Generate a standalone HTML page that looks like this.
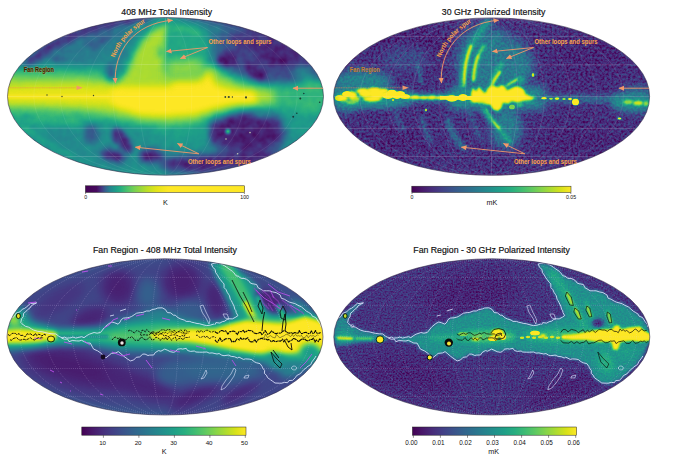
<!DOCTYPE html>
<html><head><meta charset="utf-8"><title>Sky maps</title>
<style>html,body{margin:0;padding:0;background:#fff}svg{display:block}text{font-family:"Liberation Sans",sans-serif}</style>
</head><body>
<svg width="680" height="454" viewBox="0 0 680 454">
<defs>
<filter id="vir" filterUnits="userSpaceOnUse" x="0" y="0" width="680" height="454" color-interpolation-filters="sRGB"><feComponentTransfer><feFuncR type="table" tableValues="0.267 0.274 0.279 0.282 0.283 0.282 0.279 0.273 0.267 0.257 0.249 0.239 0.228 0.218 0.207 0.198 0.187 0.179 0.170 0.162 0.155 0.146 0.139 0.131 0.125 0.121 0.119 0.123 0.132 0.147 0.171 0.197 0.233 0.267 0.312 0.352 0.404 0.449 0.497 0.555 0.606 0.668 0.720 0.783 0.835 0.896 0.946 0.993"/><feFuncG type="table" tableValues="0.005 0.031 0.062 0.095 0.121 0.151 0.175 0.205 0.228 0.256 0.279 0.301 0.327 0.347 0.372 0.392 0.415 0.434 0.456 0.475 0.493 0.515 0.534 0.556 0.574 0.596 0.615 0.637 0.655 0.673 0.694 0.712 0.732 0.749 0.768 0.783 0.800 0.814 0.826 0.840 0.851 0.862 0.870 0.879 0.886 0.894 0.900 0.906"/><feFuncB type="table" tableValues="0.329 0.359 0.387 0.417 0.441 0.465 0.483 0.502 0.514 0.527 0.535 0.541 0.547 0.550 0.553 0.555 0.557 0.557 0.558 0.558 0.558 0.557 0.555 0.552 0.549 0.544 0.538 0.529 0.520 0.509 0.494 0.479 0.459 0.441 0.416 0.393 0.363 0.335 0.306 0.269 0.237 0.196 0.163 0.125 0.103 0.096 0.113 0.144"/></feComponentTransfer></filter>
<clipPath id="e1"><ellipse cx="165.5" cy="96.4" rx="158" ry="78.8"/></clipPath>
<clipPath id="e2"><ellipse cx="491.6" cy="96.6" rx="158" ry="78.7"/></clipPath>
<clipPath id="e3"><ellipse cx="165" cy="336.9" rx="158" ry="78.1"/></clipPath>
<clipPath id="e4"><ellipse cx="491.8" cy="336.9" rx="158" ry="78.1"/></clipPath>
<filter id="virn1" filterUnits="userSpaceOnUse" x="0" y="0" width="680" height="454" color-interpolation-filters="sRGB"><feTurbulence type="fractalNoise" baseFrequency="0.12 0.12" numOctaves="2" seed="2" result="t"/><feColorMatrix in="t" type="matrix" values="1 0 0 0 0  1 0 0 0 0  1 0 0 0 0  0 0 0 0 1" result="n"/><feComposite in="SourceGraphic" in2="n" operator="arithmetic" k1="-0.2" k2="1.1" k3="0.2" k4="-0.1" result="s"/><feComponentTransfer in="s"><feFuncR type="table" tableValues="0.267 0.274 0.279 0.282 0.283 0.282 0.279 0.273 0.267 0.257 0.249 0.239 0.228 0.218 0.207 0.198 0.187 0.179 0.170 0.162 0.155 0.146 0.139 0.131 0.125 0.121 0.119 0.123 0.132 0.147 0.171 0.197 0.233 0.267 0.312 0.352 0.404 0.449 0.497 0.555 0.606 0.668 0.720 0.783 0.835 0.896 0.946 0.993"/><feFuncG type="table" tableValues="0.005 0.031 0.062 0.095 0.121 0.151 0.175 0.205 0.228 0.256 0.279 0.301 0.327 0.347 0.372 0.392 0.415 0.434 0.456 0.475 0.493 0.515 0.534 0.556 0.574 0.596 0.615 0.637 0.655 0.673 0.694 0.712 0.732 0.749 0.768 0.783 0.800 0.814 0.826 0.840 0.851 0.862 0.870 0.879 0.886 0.894 0.900 0.906"/><feFuncB type="table" tableValues="0.329 0.359 0.387 0.417 0.441 0.465 0.483 0.502 0.514 0.527 0.535 0.541 0.547 0.550 0.553 0.555 0.557 0.557 0.558 0.558 0.558 0.557 0.555 0.552 0.549 0.544 0.538 0.529 0.520 0.509 0.494 0.479 0.459 0.441 0.416 0.393 0.363 0.335 0.306 0.269 0.237 0.196 0.163 0.125 0.103 0.096 0.113 0.144"/></feComponentTransfer></filter>
<marker id="ah" viewBox="0 0 10 10" refX="9" refY="5" markerWidth="6.2" markerHeight="6.2" orient="auto-start-reverse"><path d="M0 0.5 L10 5 L0 9.5 z" fill="#f2986a"/></marker>
<path id="nps1" d="M 114.8 57.8 C 119 44 132 29.5 149.5 20"/>
<filter id="virn2" filterUnits="userSpaceOnUse" x="0" y="0" width="680" height="454" color-interpolation-filters="sRGB"><feTurbulence type="fractalNoise" baseFrequency="0.42 0.42" numOctaves="2" seed="5" result="t"/><feColorMatrix in="t" type="matrix" values="1 0 0 0 0  1 0 0 0 0  1 0 0 0 0  0 0 0 0 1" result="n"/><feComposite in="SourceGraphic" in2="n" operator="arithmetic" k1="-0.5" k2="1.25" k3="0.5" k4="-0.25" result="s"/><feComponentTransfer in="s"><feFuncR type="table" tableValues="0.267 0.274 0.279 0.282 0.283 0.282 0.279 0.273 0.267 0.257 0.249 0.239 0.228 0.218 0.207 0.198 0.187 0.179 0.170 0.162 0.155 0.146 0.139 0.131 0.125 0.121 0.119 0.123 0.132 0.147 0.171 0.197 0.233 0.267 0.312 0.352 0.404 0.449 0.497 0.555 0.606 0.668 0.720 0.783 0.835 0.896 0.946 0.993"/><feFuncG type="table" tableValues="0.005 0.031 0.062 0.095 0.121 0.151 0.175 0.205 0.228 0.256 0.279 0.301 0.327 0.347 0.372 0.392 0.415 0.434 0.456 0.475 0.493 0.515 0.534 0.556 0.574 0.596 0.615 0.637 0.655 0.673 0.694 0.712 0.732 0.749 0.768 0.783 0.800 0.814 0.826 0.840 0.851 0.862 0.870 0.879 0.886 0.894 0.900 0.906"/><feFuncB type="table" tableValues="0.329 0.359 0.387 0.417 0.441 0.465 0.483 0.502 0.514 0.527 0.535 0.541 0.547 0.550 0.553 0.555 0.557 0.557 0.558 0.558 0.558 0.557 0.555 0.552 0.549 0.544 0.538 0.529 0.520 0.509 0.494 0.479 0.459 0.441 0.416 0.393 0.363 0.335 0.306 0.269 0.237 0.196 0.163 0.125 0.103 0.096 0.113 0.144"/></feComponentTransfer></filter>
<filter id="virn4" filterUnits="userSpaceOnUse" x="0" y="0" width="680" height="454" color-interpolation-filters="sRGB"><feTurbulence type="fractalNoise" baseFrequency="0.6 0.6" numOctaves="2" seed="11" result="t"/><feColorMatrix in="t" type="matrix" values="1 0 0 0 0  1 0 0 0 0  1 0 0 0 0  0 0 0 0 1" result="n"/><feComposite in="SourceGraphic" in2="n" operator="arithmetic" k1="-0.42" k2="1.21" k3="0.42" k4="-0.21" result="s"/><feComponentTransfer in="s"><feFuncR type="table" tableValues="0.267 0.274 0.279 0.282 0.283 0.282 0.279 0.273 0.267 0.257 0.249 0.239 0.228 0.218 0.207 0.198 0.187 0.179 0.170 0.162 0.155 0.146 0.139 0.131 0.125 0.121 0.119 0.123 0.132 0.147 0.171 0.197 0.233 0.267 0.312 0.352 0.404 0.449 0.497 0.555 0.606 0.668 0.720 0.783 0.835 0.896 0.946 0.993"/><feFuncG type="table" tableValues="0.005 0.031 0.062 0.095 0.121 0.151 0.175 0.205 0.228 0.256 0.279 0.301 0.327 0.347 0.372 0.392 0.415 0.434 0.456 0.475 0.493 0.515 0.534 0.556 0.574 0.596 0.615 0.637 0.655 0.673 0.694 0.712 0.732 0.749 0.768 0.783 0.800 0.814 0.826 0.840 0.851 0.862 0.870 0.879 0.886 0.894 0.900 0.906"/><feFuncB type="table" tableValues="0.329 0.359 0.387 0.417 0.441 0.465 0.483 0.502 0.514 0.527 0.535 0.541 0.547 0.550 0.553 0.555 0.557 0.557 0.558 0.558 0.558 0.557 0.555 0.552 0.549 0.544 0.538 0.529 0.520 0.509 0.494 0.479 0.459 0.441 0.416 0.393 0.363 0.335 0.306 0.269 0.237 0.196 0.163 0.125 0.103 0.096 0.113 0.144"/></feComponentTransfer></filter>
<linearGradient id="cb1" x1="0" x2="1" y1="0" y2="0"><stop offset="0.000" stop-color="#440154"/><stop offset="0.070" stop-color="#460b5e"/><stop offset="0.100" stop-color="#463480"/><stop offset="0.125" stop-color="#355f8d"/><stop offset="0.155" stop-color="#25848e"/><stop offset="0.190" stop-color="#1e9c89"/><stop offset="0.220" stop-color="#26ad81"/><stop offset="0.270" stop-color="#52c569"/><stop offset="0.310" stop-color="#7ad151"/><stop offset="0.390" stop-color="#bddf26"/><stop offset="0.450" stop-color="#e5e419"/><stop offset="0.520" stop-color="#fde725"/><stop offset="1.000" stop-color="#fde725"/></linearGradient>
<linearGradient id="cb2" x1="0" x2="1" y1="0" y2="0"><stop offset="0.000" stop-color="#440154"/><stop offset="0.062" stop-color="#48186a"/><stop offset="0.125" stop-color="#472d7b"/><stop offset="0.188" stop-color="#424086"/><stop offset="0.250" stop-color="#3b528b"/><stop offset="0.312" stop-color="#33638d"/><stop offset="0.375" stop-color="#2c728e"/><stop offset="0.438" stop-color="#26828e"/><stop offset="0.500" stop-color="#21918c"/><stop offset="0.562" stop-color="#1fa088"/><stop offset="0.625" stop-color="#28ae80"/><stop offset="0.688" stop-color="#3fbc73"/><stop offset="0.750" stop-color="#5ec962"/><stop offset="0.812" stop-color="#84d44b"/><stop offset="0.875" stop-color="#addc30"/><stop offset="0.938" stop-color="#d8e219"/><stop offset="1.000" stop-color="#fde725"/></linearGradient>
<linearGradient id="cb3" x1="0" x2="1" y1="0" y2="0"><stop offset="0.000" stop-color="#440154"/><stop offset="0.062" stop-color="#48186a"/><stop offset="0.125" stop-color="#472d7b"/><stop offset="0.188" stop-color="#424086"/><stop offset="0.250" stop-color="#3b528b"/><stop offset="0.312" stop-color="#33638d"/><stop offset="0.375" stop-color="#2c728e"/><stop offset="0.438" stop-color="#26828e"/><stop offset="0.500" stop-color="#21918c"/><stop offset="0.562" stop-color="#1fa088"/><stop offset="0.625" stop-color="#28ae80"/><stop offset="0.688" stop-color="#3fbc73"/><stop offset="0.750" stop-color="#5ec962"/><stop offset="0.812" stop-color="#84d44b"/><stop offset="0.875" stop-color="#addc30"/><stop offset="0.938" stop-color="#d8e219"/><stop offset="1.000" stop-color="#fde725"/></linearGradient>
<linearGradient id="cb4" x1="0" x2="1" y1="0" y2="0"><stop offset="0.000" stop-color="#440154"/><stop offset="0.062" stop-color="#48186a"/><stop offset="0.125" stop-color="#472d7b"/><stop offset="0.188" stop-color="#424086"/><stop offset="0.250" stop-color="#3b528b"/><stop offset="0.312" stop-color="#33638d"/><stop offset="0.375" stop-color="#2c728e"/><stop offset="0.438" stop-color="#26828e"/><stop offset="0.500" stop-color="#21918c"/><stop offset="0.562" stop-color="#1fa088"/><stop offset="0.625" stop-color="#28ae80"/><stop offset="0.688" stop-color="#3fbc73"/><stop offset="0.750" stop-color="#5ec962"/><stop offset="0.812" stop-color="#84d44b"/><stop offset="0.875" stop-color="#addc30"/><stop offset="0.938" stop-color="#d8e219"/><stop offset="1.000" stop-color="#fde725"/></linearGradient>
<filter id="b0_5" filterUnits="userSpaceOnUse" x="0" y="0" width="680" height="454" color-interpolation-filters="sRGB"><feGaussianBlur stdDeviation="0.5"/></filter>
<filter id="b0_6" filterUnits="userSpaceOnUse" x="0" y="0" width="680" height="454" color-interpolation-filters="sRGB"><feGaussianBlur stdDeviation="0.6"/></filter>
<filter id="b0_7" filterUnits="userSpaceOnUse" x="0" y="0" width="680" height="454" color-interpolation-filters="sRGB"><feGaussianBlur stdDeviation="0.7"/></filter>
<filter id="b0_8" filterUnits="userSpaceOnUse" x="0" y="0" width="680" height="454" color-interpolation-filters="sRGB"><feGaussianBlur stdDeviation="0.8"/></filter>
<filter id="b0_9" filterUnits="userSpaceOnUse" x="0" y="0" width="680" height="454" color-interpolation-filters="sRGB"><feGaussianBlur stdDeviation="0.9"/></filter>
<filter id="b1_0" filterUnits="userSpaceOnUse" x="0" y="0" width="680" height="454" color-interpolation-filters="sRGB"><feGaussianBlur stdDeviation="1.0"/></filter>
<filter id="b1_1" filterUnits="userSpaceOnUse" x="0" y="0" width="680" height="454" color-interpolation-filters="sRGB"><feGaussianBlur stdDeviation="1.1"/></filter>
<filter id="b1_2" filterUnits="userSpaceOnUse" x="0" y="0" width="680" height="454" color-interpolation-filters="sRGB"><feGaussianBlur stdDeviation="1.2"/></filter>
<filter id="b1_3" filterUnits="userSpaceOnUse" x="0" y="0" width="680" height="454" color-interpolation-filters="sRGB"><feGaussianBlur stdDeviation="1.3"/></filter>
<filter id="b1_5" filterUnits="userSpaceOnUse" x="0" y="0" width="680" height="454" color-interpolation-filters="sRGB"><feGaussianBlur stdDeviation="1.5"/></filter>
<filter id="b1_6" filterUnits="userSpaceOnUse" x="0" y="0" width="680" height="454" color-interpolation-filters="sRGB"><feGaussianBlur stdDeviation="1.6"/></filter>
<filter id="b1_8" filterUnits="userSpaceOnUse" x="0" y="0" width="680" height="454" color-interpolation-filters="sRGB"><feGaussianBlur stdDeviation="1.8"/></filter>
<filter id="b2" filterUnits="userSpaceOnUse" x="0" y="0" width="680" height="454" color-interpolation-filters="sRGB"><feGaussianBlur stdDeviation="2"/></filter>
<filter id="b2_2" filterUnits="userSpaceOnUse" x="0" y="0" width="680" height="454" color-interpolation-filters="sRGB"><feGaussianBlur stdDeviation="2.2"/></filter>
<filter id="b2_5" filterUnits="userSpaceOnUse" x="0" y="0" width="680" height="454" color-interpolation-filters="sRGB"><feGaussianBlur stdDeviation="2.5"/></filter>
<filter id="b3" filterUnits="userSpaceOnUse" x="0" y="0" width="680" height="454" color-interpolation-filters="sRGB"><feGaussianBlur stdDeviation="3"/></filter>
<filter id="b3_2" filterUnits="userSpaceOnUse" x="0" y="0" width="680" height="454" color-interpolation-filters="sRGB"><feGaussianBlur stdDeviation="3.2"/></filter>
<filter id="b3_5" filterUnits="userSpaceOnUse" x="0" y="0" width="680" height="454" color-interpolation-filters="sRGB"><feGaussianBlur stdDeviation="3.5"/></filter>
<filter id="b4" filterUnits="userSpaceOnUse" x="0" y="0" width="680" height="454" color-interpolation-filters="sRGB"><feGaussianBlur stdDeviation="4"/></filter>
<filter id="b4_5" filterUnits="userSpaceOnUse" x="0" y="0" width="680" height="454" color-interpolation-filters="sRGB"><feGaussianBlur stdDeviation="4.5"/></filter>
<filter id="b5" filterUnits="userSpaceOnUse" x="0" y="0" width="680" height="454" color-interpolation-filters="sRGB"><feGaussianBlur stdDeviation="5"/></filter>
<filter id="b6" filterUnits="userSpaceOnUse" x="0" y="0" width="680" height="454" color-interpolation-filters="sRGB"><feGaussianBlur stdDeviation="6"/></filter>
<filter id="b7" filterUnits="userSpaceOnUse" x="0" y="0" width="680" height="454" color-interpolation-filters="sRGB"><feGaussianBlur stdDeviation="7"/></filter>
<filter id="b8" filterUnits="userSpaceOnUse" x="0" y="0" width="680" height="454" color-interpolation-filters="sRGB"><feGaussianBlur stdDeviation="8"/></filter>
<filter id="b9" filterUnits="userSpaceOnUse" x="0" y="0" width="680" height="454" color-interpolation-filters="sRGB"><feGaussianBlur stdDeviation="9"/></filter>
<filter id="b10" filterUnits="userSpaceOnUse" x="0" y="0" width="680" height="454" color-interpolation-filters="sRGB"><feGaussianBlur stdDeviation="10"/></filter>
</defs>
<rect width="680" height="454" fill="#fff"/>
<g clip-path="url(#e1)"><g filter="url(#virn1)"><rect x="0" y="10" width="340" height="175" fill="#808080"/><ellipse cx="85" cy="48" rx="55" ry="16" fill="#666666" transform="rotate(-24 85 48)" filter="url(#b7)"/><ellipse cx="58" cy="59" rx="7" ry="4" fill="#4c4c4c" transform="rotate(-20 58 59)" filter="url(#b2_5)"/><ellipse cx="100" cy="40" rx="14" ry="5" fill="#474747" transform="rotate(-30 100 40)" filter="url(#b3)"/><ellipse cx="75" cy="70" rx="10" ry="4" fill="#5c5c5c" filter="url(#b3)"/><path d="M 24 70 Q 55 30 148 15" fill="none" stroke="#1a1a1a" stroke-width="9" stroke-linecap="round" stroke-linejoin="round" filter="url(#b3)"/><path d="M 60 38 Q 90 24 130 18" fill="none" stroke="#333333" stroke-width="6" stroke-linecap="round" stroke-linejoin="round" filter="url(#b3)"/><ellipse cx="262" cy="58" rx="52" ry="26" fill="#383838" transform="rotate(22 262 58)" filter="url(#b8)"/><path d="M 188 13 Q 286 22 319 82" fill="none" stroke="#1f1f1f" stroke-width="12" stroke-linecap="round" stroke-linejoin="round" filter="url(#b4)"/><ellipse cx="227" cy="60" rx="10" ry="7" fill="#0f0f0f" filter="url(#b2_5)"/><ellipse cx="256" cy="73" rx="14" ry="6" fill="#0f0f0f" transform="rotate(38 256 73)" filter="url(#b2_5)"/><ellipse cx="274" cy="55" rx="20" ry="10" fill="#121212" transform="rotate(15 274 55)" filter="url(#b3_5)"/><ellipse cx="252" cy="44" rx="20" ry="8" fill="#212121" transform="rotate(20 252 44)" filter="url(#b4)"/><ellipse cx="305" cy="74" rx="12" ry="8" fill="#737373" filter="url(#b5)"/><ellipse cx="248" cy="132" rx="38" ry="22" fill="#171717" filter="url(#b5)"/><ellipse cx="235" cy="160" rx="45" ry="10" fill="#1a1a1a" transform="rotate(-8 235 160)" filter="url(#b5)"/><ellipse cx="190" cy="164" rx="30" ry="8" fill="#1a1a1a" filter="url(#b4)"/><ellipse cx="216" cy="128" rx="5" ry="16" fill="#1a1a1a" filter="url(#b3)"/><ellipse cx="262" cy="113" rx="11" ry="5" fill="#6b6b6b" filter="url(#b3)"/><ellipse cx="302" cy="120" rx="18" ry="14" fill="#8c8c8c" filter="url(#b6)"/><ellipse cx="228" cy="131.4" rx="2.3" ry="2.3" fill="#bfbfbf" filter="url(#b0_8)"/><ellipse cx="45" cy="117" rx="40" ry="8" fill="#a8a8a8" transform="rotate(8 45 117)" filter="url(#b5)"/><ellipse cx="27" cy="115" rx="8" ry="3.5" fill="#737373" filter="url(#b2_5)"/><path d="M 14 121 Q 40 140 72 154" fill="none" stroke="#9e9e9e" stroke-width="5" stroke-linecap="round" stroke-linejoin="round" filter="url(#b2_5)"/><ellipse cx="66" cy="140" rx="24" ry="10" fill="#787878" transform="rotate(25 66 140)" filter="url(#b5)"/><ellipse cx="92" cy="134" rx="7" ry="11" fill="#454545" filter="url(#b3_5)"/><ellipse cx="123" cy="141" rx="6" ry="14" fill="#171717" transform="rotate(-35 123 141)" filter="url(#b2_5)"/><ellipse cx="113" cy="156" rx="13" ry="6" fill="#141414" transform="rotate(15 113 156)" filter="url(#b3)"/><ellipse cx="151" cy="156" rx="12" ry="7" fill="#141414" filter="url(#b3)"/><ellipse cx="117" cy="135" rx="4" ry="8" fill="#242424" filter="url(#b2_5)"/><ellipse cx="180" cy="133" rx="28" ry="10" fill="#8f8f8f" filter="url(#b5)"/><ellipse cx="312" cy="95" rx="12" ry="16" fill="#b8b8b8" filter="url(#b5)"/><polygon points="0,66 40,66 80,67 105,70 122,76 200,70 215,70 235,78 255,84 290,84 330,80 330,112 290,110 255,108 235,110 215,118 195,127 165,128 140,126 110,122 80,120 40,118 0,114" fill="#a8a8a8" filter="url(#b5)"/><polygon points="0,77 40,77 80,77 105,79 122,82 135,78 200,66 212,66 222,76 240,84 258,88 275,90 275,104 255,105 235,107 215,113 195,121 165,123 140,121 110,115 80,111 40,109 0,108" fill="#dedede" filter="url(#b4)"/><polygon points="0,87 40,86 80,86 110,87 126,88 126,106 110,106 80,104 40,103 0,102" fill="#f5f5f5" filter="url(#b3_5)"/><polygon points="110,91 122,86 128,79 150,75 165,74 185,74 200,71 209,73 216,85 235,90 255,91 258,103 235,104 215,108 195,114 165,116 140,115 118,108 110,101" fill="#ffffff" filter="url(#b3_2)"/><path d="M 0 96.5 L 110 96.5" fill="none" stroke="#ffffff" stroke-width="3" stroke-linecap="butt" stroke-linejoin="round" filter="url(#b1_5)"/><polygon points="122,86 126,72 133,56 140,42 151,30 165,23 171,26 169,40 167,58 172,86" fill="#dedede" filter="url(#b3_5)"/><polygon points="168,22 190,23 205,32 209,48 206,62 200,76 166,76" fill="#999999" filter="url(#b4_5)"/><path d="M 174 28 Q 188 28 199 34" fill="none" stroke="#adadad" stroke-width="4" stroke-linecap="round" stroke-linejoin="round" filter="url(#b2)"/><polygon points="166,60 200,58 206,68 200,80 166,80" fill="#d1d1d1" filter="url(#b4)"/><ellipse cx="161" cy="52" rx="3" ry="6" fill="#b2b2b2" filter="url(#b2_5)"/><ellipse cx="111" cy="72" rx="5" ry="9" fill="#4c4c4c" transform="rotate(-10 111 72)" filter="url(#b3)"/><ellipse cx="120" cy="55" rx="5" ry="10" fill="#6b6b6b" transform="rotate(20 120 55)" filter="url(#b3)"/></g><g fill="none" stroke="#fff" stroke-width="0.5" opacity="0.15"><line x1="63.3" y1="156.5" x2="267.7" y2="156.5"/><line x1="21.0" y1="128.2" x2="310.0" y2="128.2"/><line x1="7.5" y1="96.4" x2="323.5" y2="96.4"/><line x1="21.0" y1="64.6" x2="310.0" y2="64.6"/><line x1="63.3" y1="36.3" x2="267.7" y2="36.3"/><path d="M165.5 17.6 A131.7 78.8 0 0 0 165.5 175.2"/><path d="M165.5 17.6 A105.3 78.8 0 0 0 165.5 175.2"/><path d="M165.5 17.6 A79.0 78.8 0 0 0 165.5 175.2"/><path d="M165.5 17.6 A52.7 78.8 0 0 0 165.5 175.2"/><path d="M165.5 17.6 A26.3 78.8 0 0 0 165.5 175.2"/><line x1="165.5" y1="17.6" x2="165.5" y2="175.2"/><path d="M165.5 17.6 A26.3 78.8 0 0 1 165.5 175.2"/><path d="M165.5 17.6 A52.7 78.8 0 0 1 165.5 175.2"/><path d="M165.5 17.6 A79.0 78.8 0 0 1 165.5 175.2"/><path d="M165.5 17.6 A105.3 78.8 0 0 1 165.5 175.2"/><path d="M165.5 17.6 A131.7 78.8 0 0 1 165.5 175.2"/></g><g fill="none" stroke="#fff" stroke-width="0.5" opacity="0.2"><line x1="63.3" y1="156.5" x2="267.7" y2="156.5"/><line x1="21.0" y1="128.2" x2="310.0" y2="128.2"/><line x1="7.5" y1="96.4" x2="323.5" y2="96.4"/><line x1="21.0" y1="64.6" x2="310.0" y2="64.6"/><line x1="63.3" y1="36.3" x2="267.7" y2="36.3"/><line x1="165.5" y1="17.6" x2="165.5" y2="175.2"/></g><circle cx="225.3" cy="97" r="0.9" fill="#152a2a" opacity="0.85"/><circle cx="228.8" cy="97" r="1.1" fill="#152a2a" opacity="0.85"/><circle cx="232.4" cy="97" r="0.7" fill="#152a2a" opacity="0.85"/><circle cx="246" cy="97.4" r="1.1" fill="#152a2a" opacity="0.85"/><circle cx="300.3" cy="98.5" r="1.0" fill="#152a2a" opacity="0.85"/><circle cx="303.8" cy="93.5" r="0.8" fill="#152a2a" opacity="0.85"/><circle cx="319.7" cy="102.3" r="0.8" fill="#152a2a" opacity="0.85"/><circle cx="293.2" cy="116.8" r="1.0" fill="#152a2a" opacity="0.85"/><circle cx="296.8" cy="113.2" r="0.8" fill="#152a2a" opacity="0.85"/><circle cx="47" cy="95" r="0.7" fill="#152a2a" opacity="0.85"/><circle cx="62" cy="96.5" r="0.7" fill="#152a2a" opacity="0.85"/><circle cx="93.5" cy="95.5" r="0.7" fill="#152a2a" opacity="0.85"/><circle cx="250" cy="132.6" r="0.8" fill="#dfe8c0" opacity="0.8"/><circle cx="237.6" cy="153.8" r="0.8" fill="#dfe8c0" opacity="0.8"/><circle cx="226" cy="139" r="0.8" fill="#dfe8c0" opacity="0.8"/></g>
<ellipse cx="165.5" cy="96.4" rx="158" ry="78.8" fill="none" stroke="#2a2340" stroke-width="0.7" opacity="0.8"/>
<path d="M 8 87.8 L 76 87.8" stroke="#f08a50" stroke-width="0.6" stroke-dasharray="1.2 0.5" opacity="0.9"/><path d="M 76.5 85.6 L 82.8 87.8 L 76.5 90 z" fill="#f2986a"/><path d="M 323 88.2 L 293 88.2" fill="none" stroke="#f2986a" stroke-width="0.9" opacity="1" marker-end="url(#ah)"/><path d="M 115.5 83 C 113 52 134 23 172.5 20.3" fill="none" stroke="#f2986a" stroke-width="0.9" opacity="1" marker-start="url(#ah)" marker-end="url(#ah)"/><path d="M 207.5 47.5 L 166.5 51.5" fill="none" stroke="#f2986a" stroke-width="0.9" opacity="1" marker-end="url(#ah)"/><path d="M 207.5 47.5 L 180.5 58.5" fill="none" stroke="#f2986a" stroke-width="0.9" opacity="1" marker-end="url(#ah)"/><path d="M 198.8 153.8 L 135.5 147.2" fill="none" stroke="#f2986a" stroke-width="0.9" opacity="1" marker-end="url(#ah)"/><path d="M 198.8 153.8 L 177.5 143.5" fill="none" stroke="#f2986a" stroke-width="0.9" opacity="1" marker-end="url(#ah)"/><text x="208.5" y="44.4" font-size="6.6" font-weight="bold" fill="#f9a24a" textLength="63" lengthAdjust="spacingAndGlyphs">Other loops and spurs</text><text x="187.9" y="163.9" font-size="6.6" font-weight="bold" fill="#f9a24a" textLength="63" lengthAdjust="spacingAndGlyphs">Other loops and spurs</text><text font-size="6.6" font-weight="bold" fill="#f9a24a" textLength="48" lengthAdjust="spacingAndGlyphs"><textPath href="#nps1" textLength="48" lengthAdjust="spacingAndGlyphs">North polar spur</textPath></text><text x="23.8" y="71.6" font-size="6.6" font-weight="bold" fill="#3a2000" textLength="30" lengthAdjust="spacingAndGlyphs" stroke="#e8923a" stroke-width="0.35" paint-order="stroke">Fan Region</text>
<g clip-path="url(#e2)"><g filter="url(#virn2)"><rect x="326" y="10" width="340" height="175" fill="#242424"/><ellipse cx="362" cy="82" rx="30" ry="12" fill="#737373" filter="url(#b5)"/><ellipse cx="345" cy="98" rx="16" ry="14" fill="#6b6b6b" filter="url(#b5)"/><ellipse cx="370" cy="103" rx="35" ry="5" fill="#808080" filter="url(#b3)"/><ellipse cx="636" cy="100" rx="20" ry="13" fill="#666666" filter="url(#b5)"/><ellipse cx="482" cy="58" rx="26" ry="32" fill="#616161" filter="url(#b7)"/><ellipse cx="508" cy="68" rx="24" ry="20" fill="#787878" filter="url(#b6)"/><ellipse cx="496" cy="60" rx="32" ry="26" fill="#666666" filter="url(#b7)"/><ellipse cx="506" cy="128" rx="16" ry="20" fill="#6b6b6b" filter="url(#b5)"/><ellipse cx="590" cy="55" rx="40" ry="25" fill="#1c1c1c" filter="url(#b10)"/><ellipse cx="410" cy="42" rx="40" ry="14" fill="#1a1a1a" filter="url(#b8)"/><ellipse cx="405" cy="58" rx="24" ry="12" fill="#3b3b3b" filter="url(#b6)"/><path d="M 417.5 62 Q 418.5 72 421 82" fill="none" stroke="#616161" stroke-width="3" stroke-linecap="round" stroke-linejoin="round" filter="url(#b1_5)"/><ellipse cx="580" cy="140" rx="40" ry="16" fill="#1c1c1c" filter="url(#b8)"/><ellipse cx="400" cy="140" rx="30" ry="14" fill="#1c1c1c" filter="url(#b8)"/><path d="M 448 120 Q 452 138 464 148" fill="none" stroke="#6b6b6b" stroke-width="5" stroke-linecap="round" stroke-linejoin="round" filter="url(#b2)"/><path d="M 422 118 Q 424 132 431 141" fill="none" stroke="#595959" stroke-width="4" stroke-linecap="round" stroke-linejoin="round" filter="url(#b2)"/><path d="M 395 110 Q 398 124 404 130" fill="none" stroke="#4c4c4c" stroke-width="4" stroke-linecap="round" stroke-linejoin="round" filter="url(#b2)"/><path d="M 470 112 Q 474 128 482 140" fill="none" stroke="#4c4c4c" stroke-width="4" stroke-linecap="round" stroke-linejoin="round" filter="url(#b2)"/><path d="M 462 88 Q 462 50 488 22" fill="none" stroke="#8c8c8c" stroke-width="7" stroke-linecap="round" stroke-linejoin="round" filter="url(#b2_2)"/><path d="M 464 86 Q 464 62 471 46" fill="none" stroke="#ffffff" stroke-width="3.2" stroke-linecap="round" stroke-linejoin="round" filter="url(#b1_0)"/><path d="M 474 80 Q 475 60 484 46" fill="none" stroke="#999999" stroke-width="5" stroke-linecap="round" stroke-linejoin="round" filter="url(#b1_6)"/><path d="M 478 56 Q 480 51 483.5 46.5" fill="none" stroke="#cccccc" stroke-width="2.2" stroke-linecap="round" stroke-linejoin="round" filter="url(#b0_9)"/><path d="M 473.5 80 Q 474 66 478 56" fill="none" stroke="#ffffff" stroke-width="2.8" stroke-linecap="round" stroke-linejoin="round" filter="url(#b0_9)"/><path d="M 492 82 Q 495 72 502 64" fill="none" stroke="#999999" stroke-width="5" stroke-linecap="round" stroke-linejoin="round" filter="url(#b1_5)"/><path d="M 491.5 86 Q 495 78 500 72" fill="none" stroke="#ffffff" stroke-width="3.2" stroke-linecap="round" stroke-linejoin="round" filter="url(#b0_9)"/><path d="M 486 60 Q 490 45 499 34" fill="none" stroke="#737373" stroke-width="4" stroke-linecap="round" stroke-linejoin="round" filter="url(#b2)"/><path d="M 507 86 Q 512 82 517 79.5" fill="none" stroke="#ffffff" stroke-width="3" stroke-linecap="round" stroke-linejoin="round" filter="url(#b0_9)"/><path d="M 510 60 Q 516 52 520 46" fill="none" stroke="#6b6b6b" stroke-width="3" stroke-linecap="round" stroke-linejoin="round" filter="url(#b1_5)"/><path d="M 499 128 Q 504 136 510 142" fill="none" stroke="#999999" stroke-width="4" stroke-linecap="round" stroke-linejoin="round" filter="url(#b1_5)"/><ellipse cx="533" cy="75" rx="1.5" ry="2" fill="#f2f2f2" filter="url(#b0_5)"/><ellipse cx="521" cy="80" rx="3" ry="4" fill="#999999" filter="url(#b1_5)"/><g transform="translate(0 2)"><path d="M 333 95.5 L 412 95.5" fill="none" stroke="#808080" stroke-width="14" stroke-linecap="butt" stroke-linejoin="round" filter="url(#b3)"/><path d="M 405 95.5 L 470 95.5" fill="none" stroke="#6b6b6b" stroke-width="9" stroke-linecap="butt" stroke-linejoin="round" filter="url(#b2_5)"/><path d="M 450 96 L 545 96" fill="none" stroke="#808080" stroke-width="22" stroke-linecap="butt" stroke-linejoin="round" filter="url(#b4)"/><path d="M 535 96.5 L 622 97.5" fill="none" stroke="#5c5c5c" stroke-width="7" stroke-linecap="butt" stroke-linejoin="round" filter="url(#b2_5)"/><path d="M 612 100 L 652 101" fill="none" stroke="#808080" stroke-width="12" stroke-linecap="butt" stroke-linejoin="round" filter="url(#b3)"/><ellipse cx="339" cy="96" rx="4" ry="3" fill="#f2f2f2" filter="url(#b1)"/><ellipse cx="347" cy="92" rx="5" ry="3" fill="#ffffff" filter="url(#b1)"/><ellipse cx="355" cy="97" rx="5" ry="3.5" fill="#e6e6e6" filter="url(#b1_2)"/><ellipse cx="351" cy="100" rx="6" ry="2.5" fill="#cccccc" filter="url(#b1_2)"/><ellipse cx="366" cy="91.5" rx="7" ry="4.5" fill="#ffffff" filter="url(#b1_2)"/><ellipse cx="377" cy="92" rx="8" ry="5.5" fill="#ffffff" filter="url(#b1_2)"/><ellipse cx="372" cy="97" rx="9" ry="3" fill="#ffffff" filter="url(#b1_2)"/><ellipse cx="362" cy="89" rx="6" ry="3" fill="#ffffff" filter="url(#b1_2)"/><ellipse cx="374" cy="88" rx="7" ry="3" fill="#ffffff" filter="url(#b1_2)"/><ellipse cx="384" cy="89" rx="5" ry="3" fill="#ffffff" filter="url(#b1_2)"/><ellipse cx="392" cy="90.5" rx="5" ry="3" fill="#ffffff" filter="url(#b1)"/><ellipse cx="400" cy="91.5" rx="5" ry="2.5" fill="#ffffff" filter="url(#b1)"/><ellipse cx="343" cy="96" rx="5" ry="3.5" fill="#ffffff" filter="url(#b1_2)"/><ellipse cx="352" cy="93" rx="5" ry="4" fill="#ffffff" filter="url(#b1_2)"/><ellipse cx="388" cy="93.5" rx="6" ry="3.5" fill="#ffffff" filter="url(#b1)"/><ellipse cx="397" cy="94" rx="5" ry="3" fill="#ffffff" filter="url(#b1)"/><ellipse cx="405" cy="94.5" rx="5" ry="2.5" fill="#ffffff" filter="url(#b1)"/><ellipse cx="415" cy="95" rx="4" ry="2" fill="#f2f2f2" filter="url(#b0_8)"/><ellipse cx="424" cy="95.5" rx="3.5" ry="1.8" fill="#d9d9d9" filter="url(#b0_8)"/><ellipse cx="432" cy="95.2" rx="3.5" ry="2" fill="#f2f2f2" filter="url(#b0_8)"/><ellipse cx="441" cy="95.5" rx="4" ry="1.8" fill="#d9d9d9" filter="url(#b0_8)"/><ellipse cx="450" cy="95.5" rx="4" ry="2.2" fill="#f2f2f2" filter="url(#b0_8)"/><ellipse cx="544" cy="96.3" rx="3" ry="1.3" fill="#ffffff" filter="url(#b0_6)"/><ellipse cx="551" cy="96.8" rx="2" ry="1.1" fill="#e6e6e6" filter="url(#b0_6)"/><ellipse cx="557" cy="96.6" rx="2.5" ry="1.3" fill="#ffffff" filter="url(#b0_6)"/><ellipse cx="564" cy="97" rx="2" ry="1.1" fill="#e6e6e6" filter="url(#b0_6)"/><ellipse cx="570" cy="97" rx="2" ry="1.2" fill="#ffffff" filter="url(#b0_6)"/><ellipse cx="575.5" cy="100" rx="3.6" ry="3.6" fill="#ffffff" filter="url(#b0_7)"/><ellipse cx="628" cy="100" rx="5" ry="2.5" fill="#d9d9d9" filter="url(#b1_2)"/><ellipse cx="638" cy="101" rx="5" ry="2.5" fill="#f2f2f2" filter="url(#b1_2)"/><ellipse cx="646" cy="101.5" rx="3" ry="2.5" fill="#d9d9d9" filter="url(#b1_2)"/></g><path d="M 440 97.8 L 474 98" fill="none" stroke="#ffffff" stroke-width="4" stroke-linecap="butt" stroke-linejoin="round" filter="url(#b1)"/><path d="M 406 97.4 L 442 97.8" fill="none" stroke="#ffffff" stroke-width="2.8" stroke-linecap="butt" stroke-linejoin="round" filter="url(#b0_9)"/><ellipse cx="452" cy="98.5" rx="6" ry="3.2" fill="#ffffff" filter="url(#b1)"/><ellipse cx="463" cy="97.5" rx="5" ry="3.5" fill="#ffffff" filter="url(#b1)"/><polygon points="470,101 471,92 473,87 476,91 479,86 482,90 485,93 488,87 493,85 498,87 501,84.5 505,86 507,90 511,88 515,86 520,86.5 524,89 526,94 531,96 536,97.5 531,100.5 524,101 518,103 512,101.5 508,104 503,103 502,108 498,111.5 493,110 490,105 484,104.5 478,103 473,103" fill="#ffffff" filter="url(#b1_0)"/><path d="M 486 110 Q 491 120 499 128" fill="none" stroke="#f2f2f2" stroke-width="3.2" stroke-linecap="round" stroke-linejoin="round" filter="url(#b1_1)"/><path d="M 482 106 Q 486 114 490 120" fill="none" stroke="#8c8c8c" stroke-width="5" stroke-linecap="round" stroke-linejoin="round" filter="url(#b2)"/><ellipse cx="512" cy="107" rx="3" ry="2.5" fill="#cccccc" filter="url(#b1)"/><ellipse cx="520" cy="105" rx="3" ry="2" fill="#b2b2b2" filter="url(#b1_2)"/><ellipse cx="619.5" cy="118.5" rx="1.8" ry="1.2" fill="#ffffff" filter="url(#b0_5)"/><ellipse cx="426" cy="110" rx="1.2" ry="1.5" fill="#e6e6e6" filter="url(#b0_5)"/><ellipse cx="393" cy="100" rx="1.2" ry="1.2" fill="#e6e6e6" filter="url(#b0_5)"/></g><g fill="none" stroke="#f0d8f0" stroke-width="0.5" opacity="0.22"><line x1="389.4" y1="156.6" x2="593.8" y2="156.6"/><line x1="347.1" y1="128.4" x2="636.1" y2="128.4"/><line x1="333.6" y1="96.6" x2="649.6" y2="96.6"/><line x1="347.1" y1="64.8" x2="636.1" y2="64.8"/><line x1="389.4" y1="36.6" x2="593.8" y2="36.6"/><path d="M491.6 17.9 A131.7 78.7 0 0 0 491.6 175.3"/><path d="M491.6 17.9 A105.3 78.7 0 0 0 491.6 175.3"/><path d="M491.6 17.9 A79.0 78.7 0 0 0 491.6 175.3"/><path d="M491.6 17.9 A52.7 78.7 0 0 0 491.6 175.3"/><path d="M491.6 17.9 A26.3 78.7 0 0 0 491.6 175.3"/><line x1="491.6" y1="17.9" x2="491.6" y2="175.3"/><path d="M491.6 17.9 A26.3 78.7 0 0 1 491.6 175.3"/><path d="M491.6 17.9 A52.7 78.7 0 0 1 491.6 175.3"/><path d="M491.6 17.9 A79.0 78.7 0 0 1 491.6 175.3"/><path d="M491.6 17.9 A105.3 78.7 0 0 1 491.6 175.3"/><path d="M491.6 17.9 A131.7 78.7 0 0 1 491.6 175.3"/></g><g fill="none" stroke="#fff" stroke-width="0.5" opacity="0.15"><line x1="389.4" y1="156.6" x2="593.8" y2="156.6"/><line x1="347.1" y1="128.4" x2="636.1" y2="128.4"/><line x1="333.6" y1="96.6" x2="649.6" y2="96.6"/><line x1="347.1" y1="64.8" x2="636.1" y2="64.8"/><line x1="389.4" y1="36.6" x2="593.8" y2="36.6"/><line x1="491.6" y1="17.9" x2="491.6" y2="175.3"/></g></g>
<ellipse cx="491.6" cy="96.6" rx="158" ry="78.7" fill="none" stroke="#2a2340" stroke-width="0.7" opacity="0.8"/>
<g transform="translate(326 0)"><path d="M 8 87.8 L 76 87.8" stroke="#f08a50" stroke-width="0.6" stroke-dasharray="1.2 0.5" opacity="0.9"/><path d="M 76.5 85.6 L 82.8 87.8 L 76.5 90 z" fill="#f2986a"/><path d="M 323 88.2 L 293 88.2" fill="none" stroke="#f2986a" stroke-width="0.9" opacity="1" marker-end="url(#ah)"/><path d="M 115.5 83 C 113 52 134 23 172.5 20.3" fill="none" stroke="#f2986a" stroke-width="0.9" opacity="1" marker-start="url(#ah)" marker-end="url(#ah)"/><path d="M 207.5 47.5 L 166.5 51.5" fill="none" stroke="#f2986a" stroke-width="0.9" opacity="1" marker-end="url(#ah)"/><path d="M 207.5 47.5 L 180.5 58.5" fill="none" stroke="#f2986a" stroke-width="0.9" opacity="1" marker-end="url(#ah)"/><path d="M 198.8 153.8 L 135.5 147.2" fill="none" stroke="#f2986a" stroke-width="0.9" opacity="1" marker-end="url(#ah)"/><path d="M 198.8 153.8 L 177.5 143.5" fill="none" stroke="#f2986a" stroke-width="0.9" opacity="1" marker-end="url(#ah)"/><text x="208.5" y="44.4" font-size="6.6" font-weight="bold" fill="#f9a24a" textLength="63" lengthAdjust="spacingAndGlyphs">Other loops and spurs</text><text x="187.9" y="163.9" font-size="6.6" font-weight="bold" fill="#f9a24a" textLength="63" lengthAdjust="spacingAndGlyphs">Other loops and spurs</text><text font-size="6.6" font-weight="bold" fill="#f9a24a" textLength="48" lengthAdjust="spacingAndGlyphs"><textPath href="#nps1" textLength="48" lengthAdjust="spacingAndGlyphs">North polar spur</textPath></text><text x="23.8" y="71.6" font-size="6.6" font-weight="bold" fill="#c8802e" textLength="30" lengthAdjust="spacingAndGlyphs">Fan Region</text></g>
<g clip-path="url(#e3)"><g filter="url(#vir)"><rect x="0" y="250" width="340" height="175" fill="#363636"/><ellipse cx="118" cy="287" rx="17" ry="18" fill="#171717" transform="rotate(-10 118 287)" filter="url(#b6)"/><ellipse cx="182" cy="282" rx="20" ry="18" fill="#171717" filter="url(#b6)"/><ellipse cx="90" cy="318" rx="20" ry="10" fill="#1a1a1a" transform="rotate(-20 90 318)" filter="url(#b5)"/><ellipse cx="148" cy="294" rx="10" ry="15" fill="#4f4f4f" filter="url(#b5)"/><ellipse cx="190" cy="311" rx="18" ry="10" fill="#4a4a4a" filter="url(#b5)"/><ellipse cx="215" cy="300" rx="9" ry="18" fill="#1a1a1a" transform="rotate(-15 215 300)" filter="url(#b4)"/><ellipse cx="75" cy="368" rx="55" ry="18" fill="#141414" transform="rotate(14 75 368)" filter="url(#b8)"/><ellipse cx="140" cy="385" rx="40" ry="12" fill="#1a1a1a" transform="rotate(18 140 385)" filter="url(#b6)"/><ellipse cx="198" cy="394" rx="30" ry="8" fill="#171717" transform="rotate(-25 198 394)" filter="url(#b5)"/><ellipse cx="240" cy="392" rx="22" ry="6" fill="#1a1a1a" transform="rotate(-30 240 392)" filter="url(#b4)"/><ellipse cx="60" cy="300" rx="30" ry="10" fill="#262626" transform="rotate(-30 60 300)" filter="url(#b6)"/><path d="M 20 385 Q 80 415 165 417" fill="none" stroke="#4c4c4c" stroke-width="9" stroke-linecap="round" stroke-linejoin="round" filter="url(#b4)"/><path d="M 18 292 Q 80 262 165 257" fill="none" stroke="#404040" stroke-width="9" stroke-linecap="round" stroke-linejoin="round" filter="url(#b4)"/><ellipse cx="215" cy="370" rx="50" ry="13" fill="#545454" filter="url(#b6)"/><ellipse cx="172" cy="374" rx="16" ry="10" fill="#4c4c4c" filter="url(#b5)"/><path d="M 232 262 Q 285 280 318 318" fill="none" stroke="#404040" stroke-width="10" stroke-linecap="round" stroke-linejoin="round" filter="url(#b4)"/><polygon points="0,320 30,320 60,329 100,327 112,322 130,317 160,307 185,318 212,323 330,316 330,362 300,370 250,360 215,356 180,353 150,353 120,352 100,348 90,345 60,345 30,349 0,352" fill="#737373" filter="url(#b3_5)"/><polygon points="209,261 224,263 246,275 264,292 272,320 236,320 228,302 218,282" fill="#858585" filter="url(#b2_5)"/><ellipse cx="270" cy="301" rx="17" ry="9" fill="#1a1a1a" transform="rotate(38 270 301)" filter="url(#b3)"/><ellipse cx="300" cy="306" rx="14" ry="5" fill="#4c4c4c" transform="rotate(35 300 306)" filter="url(#b3)"/><ellipse cx="304" cy="312" rx="16" ry="5" fill="#7a7a7a" transform="rotate(40 304 312)" filter="url(#b3)"/><path d="M 226 266 Q 242 290 254 318" fill="none" stroke="#b2b2b2" stroke-width="13" stroke-linecap="round" stroke-linejoin="round" filter="url(#b2_5)"/><path d="M 246 304 L 256 322" fill="none" stroke="#f2f2f2" stroke-width="6" stroke-linecap="round" stroke-linejoin="round" filter="url(#b1_8)"/><path d="M 258 298 Q 262 310 265 322" fill="none" stroke="#9e9e9e" stroke-width="5" stroke-linecap="round" stroke-linejoin="round" filter="url(#b1_5)"/><path d="M 279 307 Q 284 316 286 324" fill="none" stroke="#a8a8a8" stroke-width="5" stroke-linecap="round" stroke-linejoin="round" filter="url(#b1_5)"/><ellipse cx="18" cy="322" rx="11" ry="15" fill="#999999" filter="url(#b4)"/><ellipse cx="14" cy="322" rx="5" ry="10" fill="#d9d9d9" transform="rotate(-15 14 322)" filter="url(#b2_5)"/><polygon points="0,325 30,325 58,331 100,331 112,328 130,325 160,322 190,323 215,325 232,320 260,316 290,315 330,318 330,356 300,360 260,358 230,354 200,349 160,347 120,345 100,342 58,342 30,346 0,347" fill="#adadad" filter="url(#b3)"/><polygon points="0,330 20,329 55,331.5 57,335 57,338 40,342 20,343 0,343" fill="#ffffff" filter="url(#b2)"/><path d="M 112 337 L 152 335.5" fill="none" stroke="#b8b8b8" stroke-width="6" stroke-linecap="butt" stroke-linejoin="round" filter="url(#b1_8)"/><ellipse cx="192" cy="334.5" rx="5" ry="5" fill="#cccccc" filter="url(#b2)"/><polygon points="150,333 165,330 190,329 215,329 230,324 246,320 268,322 280,323 293,320 305,316 318,320 330,326 330,349 310,352 280,354 255,353 235,350 215,346 190,342 165,341 150,339" fill="#ffffff" filter="url(#b2)"/><path d="M 58 336.8 L 108 336.8" fill="none" stroke="#808080" stroke-width="4" stroke-linecap="butt" stroke-linejoin="round" filter="url(#b1_3)"/><ellipse cx="51" cy="339" rx="3.5" ry="3" fill="#ffffff" filter="url(#b0_8)"/><ellipse cx="277" cy="362" rx="12" ry="8" fill="#808080" transform="rotate(30 277 362)" filter="url(#b3_5)"/><ellipse cx="292" cy="370" rx="12" ry="6" fill="#737373" transform="rotate(-20 292 370)" filter="url(#b3_5)"/><ellipse cx="310" cy="352" rx="10" ry="8" fill="#8c8c8c" filter="url(#b3)"/></g><g fill="none" stroke="#e6d8ff" stroke-width="0.6" opacity="0.5" stroke-dasharray="0.7 1.4"><line x1="62.8" y1="396.4" x2="267.2" y2="396.4"/><line x1="20.5" y1="368.5" x2="309.5" y2="368.5"/><line x1="7.0" y1="336.9" x2="323.0" y2="336.9"/><line x1="20.5" y1="305.3" x2="309.5" y2="305.3"/><line x1="62.8" y1="277.4" x2="267.2" y2="277.4"/><path d="M165.0 258.8 A144.8 78.1 0 0 0 165.0 415.0"/><path d="M165.0 258.8 A118.5 78.1 0 0 0 165.0 415.0"/><path d="M165.0 258.8 A92.2 78.1 0 0 0 165.0 415.0"/><path d="M165.0 258.8 A65.8 78.1 0 0 0 165.0 415.0"/><path d="M165.0 258.8 A39.5 78.1 0 0 0 165.0 415.0"/><path d="M165.0 258.8 A13.2 78.1 0 0 0 165.0 415.0"/><path d="M165.0 258.8 A13.2 78.1 0 0 1 165.0 415.0"/><path d="M165.0 258.8 A39.5 78.1 0 0 1 165.0 415.0"/><path d="M165.0 258.8 A65.8 78.1 0 0 1 165.0 415.0"/><path d="M165.0 258.8 A92.2 78.1 0 0 1 165.0 415.0"/><path d="M165.0 258.8 A118.5 78.1 0 0 1 165.0 415.0"/><path d="M165.0 258.8 A144.8 78.1 0 0 1 165.0 415.0"/></g><path d="M 7.4 322.6 L 10.4 319.6 L 12.0 317.9 L 14.2 316.5 L 16.0 313.2 L 19.9 311.9 L 22.4 309.2 L 24.6 308.4 L 26.9 306.7 L 30.6 303.2 L 32.2 303.6 L 36.7 302.8 L 33.5 304.5 L 31.2 305.9 L 29.9 308.0 L 27.6 309.6 L 25.6 311.9 L 23.7 313.2 L 23.2 316.8 L 21.6 318.8 L 20.8 322.6 L 21.9 323.7 L 25.4 326.3 L 28.7 327.2 L 31.5 328.9 L 33.7 330.1 L 37.6 331.3 L 40.0 331.6 L 42.3 331.8 L 46.5 332.9 L 48.8 333.4 L 53.0 333.9 L 55.8 333.9 L 59.0 336.4 L 62.0 337.8 L 64.7 337.1 L 66.8 338.1 L 71.0 337.8 L 72.8 337.0 L 75.8 338.1 L 78.9 337.3 L 81.8 336.7 L 84.0 337.7 L 87.1 335.4 L 89.6 334.1 L 94.1 332.5 L 97.1 333.2 L 100.6 332.4 L 102.5 330.0 L 104.1 327.9 L 105.3 326.6 L 109.1 323.5 L 112.0 322.0 L 114.8 322.8 L 118.1 324.2 L 120.2 321.9 L 121.2 319.6 L 123.5 318.1 L 127.2 317.8 L 129.8 317.2 L 131.6 316.5 L 134.9 314.3 L 136.6 313.2 L 140.4 312.6 L 142.7 312.5 L 146.4 311.0 L 149.5 311.0 L 152.1 309.6 L 155.7 308.9 L 157.7 308.0 L 162.2 307.8 L 165.4 309.5 L 167.4 312.6 L 170.7 312.9 L 173.5 315.2 L 175.2 315.2 L 178.1 317.7 L 180.8 319.0 L 184.3 320.1 L 186.2 321.4 L 189.8 321.4 L 191.6 322.2 L 194.5 322.8 L 197.0 323.5 L 199.3 323.7 L 204.2 325.1 L 206.7 325.6 L 210.2 325.2 L 214.0 324.0" fill="none" stroke="#dfe6ff" stroke-width="0.85" stroke-linejoin="round" opacity="1"/><path d="M 214.8 324.8 L 215.9 322.6 L 219.9 323.1 L 222.3 321.7 L 224.7 321.2 L 227.1 319.4 L 229.4 318.8 L 232.4 318.9 L 235.8 317.1 L 237.9 315.6 L 236.2 312.6 L 235.9 310.7 L 234.8 309.2 L 234.0 306.1 L 232.3 302.7 L 231.3 300.5 L 230.4 299.7 L 229.5 295.8 L 228.7 294.5 L 227.2 292.3 L 226.1 289.7 L 224.1 287.7 L 224.0 283.8 L 222.5 282.4 L 220.4 279.6 L 219.0 277.8 L 217.5 275.1 L 215.7 272.7 L 215.1 269.3 L 212.8 267.4 L 211.4 264.0 L 214.0 263.4 L 218.4 262.9 L 221.4 264.2 L 224.1 265.5 L 226.8 267.4 L 229.0 269.0 L 232.3 271.2 L 233.7 272.5 L 236.0 275.8 L 238.2 276.2 L 241.2 278.4 L 244.1 278.4 L 246.4 279.2 L 248.8 280.8 L 250.5 283.2 L 252.8 283.8 L 256.6 284.5 L 258.1 287.7 L 261.2 289.4 L 263.2 290.8 L 266.4 290.8 L 269.2 290.8 L 272.6 291.9 L 276.1 292.6 L 280.1 294.9 L 281.4 298.3 L 284.3 299.2 L 287.9 301.4 L 289.7 302.2 L 294.2 303.4 L 295.6 303.9 L 297.8 305.2 L 301.5 306.9 L 304.2 309.2 L 306.7 311.4 L 308.5 312.3 L 311.3 314.2 L 312.3 316.2 L 315.7 317.5 L 317.2 319.8 L 318.4 321.7 L 320.5 324.2 L 321.0 327.0" fill="none" stroke="#dfe6ff" stroke-width="0.85" stroke-linejoin="round" opacity="1"/><path d="M 61.5 338.1 L 64.4 339.2 L 67.6 339.1 L 69.0 341.7 L 72.3 340.5 L 76.6 340.9 L 79.1 341.0 L 81.5 340.3 L 84.3 341.7 L 87.0 343.0 L 90.3 343.1 L 92.5 347.2 L 93.6 349.1 L 97.7 350.9 L 100.4 352.8 L 102.4 354.5 L 103.8 355.9 L 105.9 357.9 L 109.8 354.7 L 111.3 353.4 L 115.9 352.9 L 118.3 351.6 L 121.0 353.8 L 123.7 356.2 L 127.2 358.8 L 130.4 360.9 L 133.7 360.0 L 136.3 357.3 L 139.7 356.9 L 142.8 354.1 L 145.1 354.1 L 148.0 355.5 L 149.6 355.1 L 153.7 355.0 L 155.2 352.6 L 158.5 350.6 L 160.9 351.2 L 164.7 349.1 L 167.2 350.1 L 170.4 351.7 L 173.4 352.3 L 175.3 351.7 L 177.6 349.2 L 180.9 348.7 L 182.7 349.1 L 186.2 348.3 L 187.6 350.5 L 190.6 351.4 L 194.3 351.0 L 195.9 352.0 L 199.6 352.2 L 202.8 352.2 L 206.9 352.0 L 209.2 353.1 L 212.1 352.9 L 217.0 354.0 L 219.1 353.5 L 221.8 355.2 L 224.0 355.7 L 228.3 355.1 L 231.3 356.4 L 234.4 356.7 L 237.4 358.0 L 239.0 357.1 L 243.4 359.4 L 245.5 358.9 L 249.2 359.1 L 251.7 359.6 L 254.2 361.7 L 256.6 362.8 L 260.0 363.6 L 262.1 366.5 L 262.6 367.9 L 264.6 370.5 L 264.4 373.4 L 266.4 375.2 L 267.6 377.7 L 270.7 379.9 L 272.7 381.3 L 275.0 383.0 L 279.4 383.2 L 281.5 383.2 L 284.6 382.4 L 287.6 382.7 L 288.9 380.6 L 292.6 380.3 L 295.3 377.7 L 296.6 375.6 L 300.6 373.5 L 301.7 371.8 L 303.8 369.8 L 306.8 367.3 L 307.0 366.9 L 310.8 364.5 L 311.9 361.9 L 314.9 357.9 L 316.0 356.0" fill="none" stroke="#dfe6ff" stroke-width="0.85" stroke-linejoin="round" opacity="1"/><path d="M 200 306 L 202 312 L 206 318 L 209 324 L 210 320 L 206 312 L 203 305 Z" fill="none" stroke="#dfe6ff" stroke-width="0.6" stroke-linejoin="round" opacity="1"/><path d="M 223 314 L 225 318 L 229 319 L 227 314 Z" fill="none" stroke="#dfe6ff" stroke-width="0.6" stroke-linejoin="round" opacity="1"/><path d="M 234 368 L 231 374 L 226 380 L 222 386 L 221 390 L 225 388 L 230 382 L 234 376 L 236 370 Z" fill="none" stroke="#dfe6ff" stroke-width="0.6" stroke-linejoin="round" opacity="1"/><path d="M 206 370 L 203 376 L 201 379 L 204 378 L 207 373 Z" fill="none" stroke="#dfe6ff" stroke-width="0.6" stroke-linejoin="round" opacity="1"/><path d="M 245 376 L 249 375 L 248 378 L 244 378 Z" fill="none" stroke="#dfe6ff" stroke-width="0.6" stroke-linejoin="round" opacity="1"/><path d="M 294 366 a 2.5 2 0 1 0 0.1 0" fill="none" stroke="#dfe6ff" stroke-width="0.6" stroke-linejoin="round" opacity="1"/><path d="M 110 316 L 114 315 M 120 311 L 126 309" fill="none" stroke="#dfe6ff" stroke-width="0.8" stroke-linejoin="round" opacity="1"/><path d="M 82 272 l 6 -1 M 108 266 l 4 0 M 28 303 l 8 -1 M 76 310 l 1 0 M 104 328 l 5 -3 l 4 -5 l 5 -2 M 124 320 l 6 -2 M 136 316 l 8 -2 M 162 318 l 8 2 M 34 338 l 8 1 M 64 342 l 8 2 M 84 341 l 6 4 M 112 352 l 10 4 l 8 -2 M 146 360 l 6 8 M 50 370 l 4 2 M 60 382 l 2 1 M 100 394 l 3 1 M 70 391 l 1 0" fill="none" stroke="#c050f0" stroke-width="1.0" stroke-linejoin="round" opacity="0.9"/><path d="M 256 290 l 8 8 l 10 6 l 8 6 M 268 284 l 10 8 l 12 4 M 290 305 l 10 6 M 196 346 l 10 3 M 170 350 l 10 2 M 232 360 l 4 6 M 300 368 l 6 -6 l 6 -8 M 270 290 l 4 8" fill="none" stroke="#c050f0" stroke-width="1.0" stroke-linejoin="round" opacity="0.8"/><path d="M 254 288 l 6 7 l 3 8 l 6 6 M 262 290 l 7 6 l 5 9 l 6 4 M 272 296 l 6 5 l 4 8 M 268 303 l 5 8 M 282 300 l 8 6 l 6 7 M 296 308 l 8 6" fill="none" stroke="#9a40c8" stroke-width="1.3" stroke-linejoin="round" opacity="0.55"/><g stroke-dasharray="3 0.8"><path d="M 8.0 334.4 L 9.3 335.5 L 10.5 335.1 L 12.1 333.4 L 13.9 333.3 L 15.6 333.5 L 16.8 334.7 L 19.1 333.6 L 20.5 335.5 L 22.9 335.3 L 24.6 336.7 L 25.7 336.3 L 27.2 333.7 L 28.5 334.3 L 30.7 333.9 L 32.6 335.5 L 34.3 335.2 L 35.4 333.4 L 36.8 335.6 L 38.5 334.3 L 40.4 334.8 L 41.9 336.1 L 44.0 334.1 L 45.9 335.1" fill="none" stroke="#0a0a0a" stroke-width="1.0" stroke-linejoin="round" opacity="1"/><path d="M 10.0 339.7 L 11.5 340.4 L 12.7 338.8 L 14.9 338.0 L 16.7 337.6 L 18.7 339.8 L 20.6 340.1 L 22.2 339.6 L 24.1 339.2 L 25.9 340.0 L 28.3 338.9 L 30.3 337.7 L 32.4 339.4 L 34.9 340.0 L 36.4 338.7 L 38.5 337.6 L 40.2 338.0 L 41.5 337.7 L 43.6 337.9" fill="none" stroke="#0a0a0a" stroke-width="0.9" stroke-linejoin="round" opacity="1"/></g><g stroke-dasharray="2.2 0.9"><path d="M 128.0 331.1 L 130.3 329.8 L 132.1 331.7 L 134.4 332.8 L 136.7 330.6 L 138.4 330.9 L 140.8 333.3 L 142.1 330.2 L 143.5 330.4 L 145.3 331.9 L 146.7 329.5 L 148.4 331.0 L 150.3 333.3 L 152.4 331.6 L 154.3 332.2 L 155.5 333.1 L 157.7 333.0 L 159.9 331.1 L 161.6 329.9 L 163.6 329.7 L 164.8 330.3 L 166.1 330.9 L 167.2 329.5 L 168.5 329.9 L 170.1 329.6 L 172.5 332.0 L 173.8 330.5 L 175.3 331.0 L 176.6 332.9 L 179.1 331.4 L 180.9 329.8 L 182.1 330.9 L 183.6 332.8 L 184.9 329.6 L 187.3 331.6 L 188.6 331.7 L 189.7 331.6" fill="none" stroke="#0a0a0a" stroke-width="0.9" stroke-linejoin="round" opacity="1"/><path d="M 112.0 340.0 L 114.1 337.5 L 115.7 337.2 L 117.9 338.6 L 120.1 337.8 L 121.5 339.7 L 124.0 339.9 L 126.2 339.8 L 128.4 337.4 L 130.2 337.9 L 131.3 336.6 L 132.8 337.5 L 134.9 340.3 L 136.6 340.2 L 139.1 340.3 L 140.7 337.4 L 142.1 337.3 L 143.5 339.0 L 145.9 339.9 L 147.6 339.1 L 149.9 336.8 L 151.9 340.1 L 154.1 339.5 L 155.9 337.2 L 158.1 337.8 L 160.3 340.4 L 162.0 338.1 L 164.4 339.4 L 165.7 337.0 L 167.0 340.1 L 169.3 337.1 L 171.6 340.4 L 173.6 337.9 L 175.4 337.0 L 176.5 340.4 L 178.6 338.6 L 181.0 338.2 L 183.3 339.8 L 184.7 337.5 L 186.2 337.5 L 188.1 337.5 L 189.8 337.0" fill="none" stroke="#0a0a0a" stroke-width="0.9" stroke-linejoin="round" opacity="1"/><path d="M 140.0 334.4 L 141.7 335.4 L 144.1 334.7 L 146.5 335.0 L 148.4 335.1 L 149.5 334.7 L 150.8 332.8 L 153.1 333.6 L 154.8 336.0 L 156.7 334.2 L 158.5 335.2 L 160.7 333.3 L 162.6 333.9 L 164.1 336.2 L 165.9 335.3 L 168.1 336.8 L 169.8 335.5 L 171.6 335.1 L 173.7 334.8 L 175.5 334.9 L 178.0 335.9 L 180.3 336.9 L 181.8 335.3 L 184.2 336.5 L 185.5 333.3 L 187.2 333.1 L 188.6 333.1" fill="none" stroke="#0a0a0a" stroke-width="0.9" stroke-linejoin="round" opacity="1"/><path d="M 150.0 333.9 L 152.1 332.0 L 154.0 333.5 L 155.1 334.1 L 157.3 332.2 L 159.5 332.7 L 161.1 334.5 L 163.1 332.0 L 164.6 333.0 L 166.0 332.1 L 167.4 333.7 L 168.4 333.2 L 169.9 331.6 L 171.3 333.4 L 172.9 331.7 L 175.1 333.9 L 177.3 331.8 L 178.6 331.6 L 180.6 332.3 L 181.7 332.8 L 183.8 334.0 L 185.1 331.9" fill="none" stroke="#0a0a0a" stroke-width="0.7" stroke-linejoin="round" opacity="1"/><path d="M 196.0 332.3 L 198.1 330.4 L 199.3 332.8 L 200.9 330.3 L 203.4 332.5 L 205.6 330.3 L 207.9 330.3 L 210.2 331.8 L 211.8 332.2 L 214.2 331.1 L 215.5 332.1" fill="none" stroke="#0a0a0a" stroke-width="0.8" stroke-linejoin="round" opacity="1"/><path d="M 196.0 335.4 L 197.3 335.2 L 198.7 336.2 L 200.2 338.0 L 201.7 337.0 L 203.0 336.4 L 204.1 336.0 L 205.2 337.9 L 207.1 335.8 L 208.9 338.7 L 210.1 338.3 L 211.8 337.0 L 214.1 336.6 L 215.9 337.8" fill="none" stroke="#0a0a0a" stroke-width="0.8" stroke-linejoin="round" opacity="1"/></g><g stroke-dasharray="4 0.7 2 0.5"><path d="M 215.0 331.8 L 217.3 333.4 L 219.3 332.1 L 220.9 330.5 L 222.1 330.6 L 224.3 331.4 L 225.6 330.7 L 227.9 334.1 L 229.9 331.5 L 231.3 331.6 L 233.1 331.0 L 234.8 331.5 L 237.3 334.6 L 239.1 331.4 L 241.6 331.7 L 243.2 330.3 L 244.8 332.4 L 246.6 331.2 L 248.5 330.3 L 249.9 330.7 L 251.6 330.5 L 252.7 331.6 L 254.1 332.9 L 255.9 333.6 L 258.0 333.5 L 260.3 332.0 L 261.9 334.6 L 263.2 333.5 L 265.2 330.5 L 267.4 334.2 L 269.4 333.5 L 271.7 330.9 L 273.5 332.5 L 275.8 333.8 L 278.1 332.9 L 280.4 333.3 L 282.5 331.3 L 283.6 330.9 L 285.2 330.8 L 287.5 332.8 L 289.5 333.1 L 291.6 332.5 L 292.6 333.8 L 294.8 332.5 L 296.7 333.2 L 297.8 333.5 L 299.3 330.6 L 300.7 333.5 L 302.1 333.6 L 304.6 332.5 L 306.2 332.4 L 308.3 333.7 L 310.3 333.1 L 311.4 330.9 L 312.9 333.6 L 314.4 332.8 L 315.5 330.6 L 317.0 333.3 L 319.1 333.3 L 320.6 332.6" fill="none" stroke="#0a0a0a" stroke-width="1.1" stroke-linejoin="round" opacity="1"/><path d="M 215.0 339.9 L 216.3 341.7 L 217.6 342.1 L 220.0 337.9 L 221.8 341.4 L 224.3 339.8 L 225.7 338.7 L 228.2 338.7 L 230.1 338.4 L 231.9 342.0 L 233.2 341.4 L 235.0 341.7 L 237.1 338.8 L 239.5 339.9 L 240.6 337.8 L 242.4 339.8 L 243.9 338.4 L 245.5 339.2 L 247.8 337.8 L 249.9 341.5 L 251.2 341.9 L 253.3 341.8 L 254.8 339.4 L 256.4 342.2 L 258.3 339.4 L 260.0 339.0 L 261.2 338.2 L 263.5 339.1 L 265.9 338.9 L 267.4 340.0 L 268.7 339.4 L 271.2 341.7 L 273.4 340.6 L 275.8 341.9 L 277.7 341.0 L 278.8 341.0 L 280.6 341.1 L 282.6 339.1 L 283.7 341.9 L 285.0 339.9 L 286.6 339.1 L 288.7 342.1 L 290.2 340.7 L 291.7 340.3 L 293.3 338.5 L 294.6 338.7 L 297.0 340.0 L 298.4 341.8 L 300.9 339.8 L 302.2 338.6 L 303.4 339.3 L 304.6 338.9 L 306.1 340.3 L 308.4 341.1 L 310.1 339.6 L 312.0 339.5 L 313.5 338.1 L 315.0 342.1 L 316.3 340.0 L 318.3 341.6 L 319.6 339.0 L 321.1 339.6" fill="none" stroke="#0a0a0a" stroke-width="1.1" stroke-linejoin="round" opacity="1"/></g><path d="M 262.0 337.8 L 264.3 337.5 L 265.4 334.1 L 267.5 337.6 L 269.3 336.3 L 270.4 335.6 L 272.8 337.3 L 275.1 337.9 L 276.5 334.4 L 277.8 336.1 L 279.9 337.8 L 282.0 336.6 L 284.2 335.8 L 286.1 334.2 L 288.3 334.9 L 290.7 336.6 L 292.2 334.5 L 293.6 336.5 L 295.7 334.4 L 296.9 336.1 L 298.8 335.6 L 300.2 336.4 L 301.3 335.2 L 303.1 337.8 L 305.1 337.5 L 306.8 334.9 L 308.3 337.8 L 310.4 335.2 L 311.5 336.0 L 313.5 335.7 L 315.0 336.7 L 317.4 334.9 L 318.5 335.4" fill="none" stroke="#0a0a0a" stroke-width="0.6" stroke-linejoin="round" opacity="0.7"/><path d="M 262 331 L 263 320 L 264.5 312 M 282 331 L 283 322 L 285 314 L 286 324 L 285 331 M 285 341 L 288 347 L 292 350 L 291 343 M 273 350 L 276 354 L 279 358" fill="none" stroke="#0a0a0a" stroke-width="0.9" stroke-linejoin="round" opacity="1"/><path d="M 232 280 L 236 288 L 240 296 L 246 306 L 250 314 L 254 322 M 243 292 L 248 302 L 252 312 M 260 300 L 263 308 L 262 314 L 258 306 Z M 280 312 L 283 306 L 286 312 L 285 320 L 281 318 Z M 271 352 L 276 358 L 282 364 L 280 368 L 274 362 Z" fill="none" stroke="#0a0a0a" stroke-width="0.8" stroke-linejoin="round" opacity="1"/><circle cx="121.8" cy="342.4" r="3.9" fill="#0a0a0a"/><circle cx="122" cy="343" r="1.7" fill="#f3e6e6"/><circle cx="103" cy="357" r="2.4" fill="#150a20"/><ellipse cx="51" cy="339" rx="3.6" ry="3" fill="none" stroke="#000" stroke-width="0.8"/><ellipse cx="18.4" cy="316" rx="2" ry="2.6" fill="#e8e020" stroke="#000" stroke-width="0.8"/></g>
<ellipse cx="165" cy="336.9" rx="158" ry="78.1" fill="none" stroke="#2a2340" stroke-width="0.7" opacity="0.8"/>

<g clip-path="url(#e4)"><g filter="url(#virn4)"><rect x="326" y="250" width="340" height="175" fill="#262626"/><ellipse cx="470" cy="295" rx="50" ry="22" fill="#1a1a1a" transform="rotate(-10 470 295)" filter="url(#b9)"/><ellipse cx="410" cy="375" rx="50" ry="18" fill="#1a1a1a" transform="rotate(12 410 375)" filter="url(#b9)"/><ellipse cx="560" cy="390" rx="40" ry="12" fill="#1a1a1a" transform="rotate(-15 560 390)" filter="url(#b7)"/><polygon points="388.8,338 410.8,337 416.8,334 426.8,332 432.8,326 438.8,322 444.8,324 450.8,318 458.8,316 466.8,313 476.8,311 484.8,308 489.8,308 494.8,312 502.8,316 510.8,320 518.8,322 526.8,324 533.8,325 540.8,324 548.8,322 558.8,318 564.8,316 560.8,306 554.8,294 548.8,282 542.8,272 537.8,264 544.8,263.5 552.8,267 558.8,271 564.8,277 572.8,280 582.8,285 590.8,291 596.8,290 603.8,293 608.8,298 613.8,302 620.8,303 627.8,306.5 632.8,311 637.8,314.5 643.8,320 647.8,327 651.8,337 642.8,356 634.8,366 626.8,374 618.8,380 608.8,384 598.8,382 592.8,376 588.8,366 578.8,360 566.8,358 554.8,356 542.8,354 532.8,352 522.8,352 512.8,349 504.8,350 496.8,352 490.8,350 482.8,352 476.8,356 468.8,354 462.8,358 456.8,360 450.8,356 444.8,352 438.8,354 432.8,357 426.8,352 420.8,350 416.8,344" fill="#808080" filter="url(#b1_5)"/><polygon points="334.8,322 340.8,316 348.8,310 356.8,304 362.8,303 356.8,308 350.8,314 346.8,322 351.8,326 360.8,330 372.8,333 382.8,334 388.8,338 382.8,342 366.8,342 350.8,344 336.8,346 333.8,337" fill="#757575" filter="url(#b1_5)"/><path d="M 553 274 Q 568 296 584 324" fill="none" stroke="#999999" stroke-width="8" stroke-linecap="round" stroke-linejoin="round" filter="url(#b2_5)"/><path d="M 586 302 Q 590 311 593 322" fill="none" stroke="#949494" stroke-width="5" stroke-linecap="round" stroke-linejoin="round" filter="url(#b1_8)"/><path d="M 607 310 Q 610 317 612 325" fill="none" stroke="#999999" stroke-width="4" stroke-linecap="round" stroke-linejoin="round" filter="url(#b1_5)"/><ellipse cx="606" cy="362" rx="8" ry="12" fill="#9e9e9e" transform="rotate(-20 606 362)" filter="url(#b3)"/><ellipse cx="625" cy="352" rx="12" ry="8" fill="#8c8c8c" filter="url(#b3)"/><ellipse cx="486" cy="336.5" rx="30" ry="6.5" fill="#b8b8b8" filter="url(#b2_5)"/><ellipse cx="450" cy="338" rx="22" ry="4" fill="#999999" filter="url(#b2)"/><ellipse cx="585" cy="336" rx="62" ry="7" fill="#adadad" filter="url(#b3)"/><ellipse cx="598" cy="323" rx="6" ry="4.5" fill="#262626" filter="url(#b1_5)"/><ellipse cx="345" cy="336" rx="10" ry="6" fill="#8c8c8c" filter="url(#b2_5)"/><path d="M 567.5 293.5 L 572 304" fill="none" stroke="#f2f2f2" stroke-width="2.8" stroke-linecap="round" stroke-linejoin="round" filter="url(#b0_9)"/><path d="M 575.5 309 L 580 318" fill="none" stroke="#f2f2f2" stroke-width="2.8" stroke-linecap="round" stroke-linejoin="round" filter="url(#b0_9)"/><path d="M 587.3 307 L 590.8 316" fill="none" stroke="#f2f2f2" stroke-width="2.4" stroke-linecap="round" stroke-linejoin="round" filter="url(#b0_8)"/><path d="M 608 313 L 611 322" fill="none" stroke="#e6e6e6" stroke-width="2.4" stroke-linecap="round" stroke-linejoin="round" filter="url(#b0_8)"/><path d="M 338 338 L 352 338.5" fill="none" stroke="#ffffff" stroke-width="3" stroke-linecap="round" stroke-linejoin="round" filter="url(#b0_8)"/><path d="M 356 338.5 L 372 338.5" fill="none" stroke="#e6e6e6" stroke-width="2" stroke-linecap="round" stroke-linejoin="round" filter="url(#b0_8)"/><ellipse cx="380" cy="339.5" rx="3.5" ry="3.5" fill="#ffffff" filter="url(#b0_7)"/><ellipse cx="497.5" cy="333" rx="6.5" ry="4.5" fill="#ffffff" filter="url(#b1_1)"/><ellipse cx="493" cy="338.5" rx="5" ry="2.6" fill="#ffffff" filter="url(#b1)"/><ellipse cx="503" cy="337" rx="3" ry="3" fill="#ffffff" filter="url(#b1)"/><ellipse cx="476" cy="339" rx="4" ry="1.8" fill="#ffffff" filter="url(#b0_8)"/><ellipse cx="535" cy="333" rx="5" ry="2.5" fill="#ffffff" filter="url(#b1)"/><ellipse cx="543" cy="336" rx="3" ry="2" fill="#ffffff" filter="url(#b0_8)"/><ellipse cx="522" cy="337.8" rx="2.2" ry="1.3" fill="#f2f2f2" filter="url(#b0_6)"/><ellipse cx="528" cy="337.0" rx="2.2" ry="1.3" fill="#f2f2f2" filter="url(#b0_6)"/><ellipse cx="534" cy="337.8" rx="2.2" ry="1.3" fill="#f2f2f2" filter="url(#b0_6)"/><ellipse cx="540" cy="337.0" rx="2.2" ry="1.3" fill="#f2f2f2" filter="url(#b0_6)"/><ellipse cx="546" cy="337.8" rx="2.2" ry="1.3" fill="#f2f2f2" filter="url(#b0_6)"/><ellipse cx="552" cy="337.0" rx="2.2" ry="1.3" fill="#f2f2f2" filter="url(#b0_6)"/><ellipse cx="558" cy="337.8" rx="2.2" ry="1.3" fill="#f2f2f2" filter="url(#b0_6)"/><ellipse cx="564" cy="337.0" rx="2.2" ry="1.3" fill="#f2f2f2" filter="url(#b0_6)"/><polygon points="562,335 575,334 590,331 600,329 612,329 615,325 619,325 621,329 630,327 640,326 644,330 651,334 651,341 640,342 630,341 621,342 618,350 613,350 611,342 598,342 585,340 572,340 562,339" fill="#ffffff" filter="url(#b1_1)"/><ellipse cx="429.8" cy="357.5" rx="2.2" ry="2.4" fill="#ffffff" filter="url(#b0_6)"/><ellipse cx="463" cy="334" rx="5" ry="2" fill="#cccccc" filter="url(#b1)"/><ellipse cx="478" cy="336" rx="4" ry="2" fill="#c7c7c7" filter="url(#b1)"/></g><g fill="none" stroke="#e6d8ff" stroke-width="0.6" opacity="0.45" stroke-dasharray="0.7 1.4"><line x1="389.6" y1="396.4" x2="594.0" y2="396.4"/><line x1="347.3" y1="368.5" x2="636.3" y2="368.5"/><line x1="333.8" y1="336.9" x2="649.8" y2="336.9"/><line x1="347.3" y1="305.3" x2="636.3" y2="305.3"/><line x1="389.6" y1="277.4" x2="594.0" y2="277.4"/><path d="M491.8 258.8 A144.8 78.1 0 0 0 491.8 415.0"/><path d="M491.8 258.8 A118.5 78.1 0 0 0 491.8 415.0"/><path d="M491.8 258.8 A92.2 78.1 0 0 0 491.8 415.0"/><path d="M491.8 258.8 A65.8 78.1 0 0 0 491.8 415.0"/><path d="M491.8 258.8 A39.5 78.1 0 0 0 491.8 415.0"/><path d="M491.8 258.8 A13.2 78.1 0 0 0 491.8 415.0"/><path d="M491.8 258.8 A13.2 78.1 0 0 1 491.8 415.0"/><path d="M491.8 258.8 A39.5 78.1 0 0 1 491.8 415.0"/><path d="M491.8 258.8 A65.8 78.1 0 0 1 491.8 415.0"/><path d="M491.8 258.8 A92.2 78.1 0 0 1 491.8 415.0"/><path d="M491.8 258.8 A118.5 78.1 0 0 1 491.8 415.0"/><path d="M491.8 258.8 A144.8 78.1 0 0 1 491.8 415.0"/></g><g transform="translate(326.8 0)"><path d="M 7.4 322.6 L 10.4 319.6 L 12.0 317.9 L 14.2 316.5 L 16.0 313.2 L 19.9 311.9 L 22.4 309.2 L 24.6 308.4 L 26.9 306.7 L 30.6 303.2 L 32.2 303.6 L 36.7 302.8 L 33.5 304.5 L 31.2 305.9 L 29.9 308.0 L 27.6 309.6 L 25.6 311.9 L 23.7 313.2 L 23.2 316.8 L 21.6 318.8 L 20.8 322.6 L 21.9 323.7 L 25.4 326.3 L 28.7 327.2 L 31.5 328.9 L 33.7 330.1 L 37.6 331.3 L 40.0 331.6 L 42.3 331.8 L 46.5 332.9 L 48.8 333.4 L 53.0 333.9 L 55.8 333.9 L 59.0 336.4 L 62.0 337.8 L 64.7 337.1 L 66.8 338.1 L 71.0 337.8 L 72.8 337.0 L 75.8 338.1 L 78.9 337.3 L 81.8 336.7 L 84.0 337.7 L 87.1 335.4 L 89.6 334.1 L 94.1 332.5 L 97.1 333.2 L 100.6 332.4 L 102.5 330.0 L 104.1 327.9 L 105.3 326.6 L 109.1 323.5 L 112.0 322.0 L 114.8 322.8 L 118.1 324.2 L 120.2 321.9 L 121.2 319.6 L 123.5 318.1 L 127.2 317.8 L 129.8 317.2 L 131.6 316.5 L 134.9 314.3 L 136.6 313.2 L 140.4 312.6 L 142.7 312.5 L 146.4 311.0 L 149.5 311.0 L 152.1 309.6 L 155.7 308.9 L 157.7 308.0 L 162.2 307.8 L 165.4 309.5 L 167.4 312.6 L 170.7 312.9 L 173.5 315.2 L 175.2 315.2 L 178.1 317.7 L 180.8 319.0 L 184.3 320.1 L 186.2 321.4 L 189.8 321.4 L 191.6 322.2 L 194.5 322.8 L 197.0 323.5 L 199.3 323.7 L 204.2 325.1 L 206.7 325.6 L 210.2 325.2 L 214.0 324.0" fill="none" stroke="#dfe6ff" stroke-width="0.85" stroke-linejoin="round" opacity="1"/><path d="M 214.8 324.8 L 215.9 322.6 L 219.9 323.1 L 222.3 321.7 L 224.7 321.2 L 227.1 319.4 L 229.4 318.8 L 232.4 318.9 L 235.8 317.1 L 237.9 315.6 L 236.2 312.6 L 235.9 310.7 L 234.8 309.2 L 234.0 306.1 L 232.3 302.7 L 231.3 300.5 L 230.4 299.7 L 229.5 295.8 L 228.7 294.5 L 227.2 292.3 L 226.1 289.7 L 224.1 287.7 L 224.0 283.8 L 222.5 282.4 L 220.4 279.6 L 219.0 277.8 L 217.5 275.1 L 215.7 272.7 L 215.1 269.3 L 212.8 267.4 L 211.4 264.0 L 214.0 263.4 L 218.4 262.9 L 221.4 264.2 L 224.1 265.5 L 226.8 267.4 L 229.0 269.0 L 232.3 271.2 L 233.7 272.5 L 236.0 275.8 L 238.2 276.2 L 241.2 278.4 L 244.1 278.4 L 246.4 279.2 L 248.8 280.8 L 250.5 283.2 L 252.8 283.8 L 256.6 284.5 L 258.1 287.7 L 261.2 289.4 L 263.2 290.8 L 266.4 290.8 L 269.2 290.8 L 272.6 291.9 L 276.1 292.6 L 280.1 294.9 L 281.4 298.3 L 284.3 299.2 L 287.9 301.4 L 289.7 302.2 L 294.2 303.4 L 295.6 303.9 L 297.8 305.2 L 301.5 306.9 L 304.2 309.2 L 306.7 311.4 L 308.5 312.3 L 311.3 314.2 L 312.3 316.2 L 315.7 317.5 L 317.2 319.8 L 318.4 321.7 L 320.5 324.2 L 321.0 327.0" fill="none" stroke="#dfe6ff" stroke-width="0.85" stroke-linejoin="round" opacity="1"/><path d="M 61.5 338.1 L 64.4 339.2 L 67.6 339.1 L 69.0 341.7 L 72.3 340.5 L 76.6 340.9 L 79.1 341.0 L 81.5 340.3 L 84.3 341.7 L 87.0 343.0 L 90.3 343.1 L 92.5 347.2 L 93.6 349.1 L 97.7 350.9 L 100.4 352.8 L 102.4 354.5 L 103.8 355.9 L 105.9 357.9 L 109.8 354.7 L 111.3 353.4 L 115.9 352.9 L 118.3 351.6 L 121.0 353.8 L 123.7 356.2 L 127.2 358.8 L 130.4 360.9 L 133.7 360.0 L 136.3 357.3 L 139.7 356.9 L 142.8 354.1 L 145.1 354.1 L 148.0 355.5 L 149.6 355.1 L 153.7 355.0 L 155.2 352.6 L 158.5 350.6 L 160.9 351.2 L 164.7 349.1 L 167.2 350.1 L 170.4 351.7 L 173.4 352.3 L 175.3 351.7 L 177.6 349.2 L 180.9 348.7 L 182.7 349.1 L 186.2 348.3 L 187.6 350.5 L 190.6 351.4 L 194.3 351.0 L 195.9 352.0 L 199.6 352.2 L 202.8 352.2 L 206.9 352.0 L 209.2 353.1 L 212.1 352.9 L 217.0 354.0 L 219.1 353.5 L 221.8 355.2 L 224.0 355.7 L 228.3 355.1 L 231.3 356.4 L 234.4 356.7 L 237.4 358.0 L 239.0 357.1 L 243.4 359.4 L 245.5 358.9 L 249.2 359.1 L 251.7 359.6 L 254.2 361.7 L 256.6 362.8 L 260.0 363.6 L 262.1 366.5 L 262.6 367.9 L 264.6 370.5 L 264.4 373.4 L 266.4 375.2 L 267.6 377.7 L 270.7 379.9 L 272.7 381.3 L 275.0 383.0 L 279.4 383.2 L 281.5 383.2 L 284.6 382.4 L 287.6 382.7 L 288.9 380.6 L 292.6 380.3 L 295.3 377.7 L 296.6 375.6 L 300.6 373.5 L 301.7 371.8 L 303.8 369.8 L 306.8 367.3 L 307.0 366.9 L 310.8 364.5 L 311.9 361.9 L 314.9 357.9 L 316.0 356.0" fill="none" stroke="#dfe6ff" stroke-width="0.85" stroke-linejoin="round" opacity="1"/><path d="M 200 306 L 202 312 L 206 318 L 209 324 L 210 320 L 206 312 L 203 305 Z" fill="none" stroke="#dfe6ff" stroke-width="0.6" stroke-linejoin="round" opacity="1"/><path d="M 223 314 L 225 318 L 229 319 L 227 314 Z" fill="none" stroke="#dfe6ff" stroke-width="0.6" stroke-linejoin="round" opacity="1"/><path d="M 234 368 L 231 374 L 226 380 L 222 386 L 221 390 L 225 388 L 230 382 L 234 376 L 236 370 Z" fill="none" stroke="#dfe6ff" stroke-width="0.6" stroke-linejoin="round" opacity="1"/><path d="M 206 370 L 203 376 L 201 379 L 204 378 L 207 373 Z" fill="none" stroke="#dfe6ff" stroke-width="0.6" stroke-linejoin="round" opacity="1"/><path d="M 245 376 L 249 375 L 248 378 L 244 378 Z" fill="none" stroke="#dfe6ff" stroke-width="0.6" stroke-linejoin="round" opacity="1"/><path d="M 294 366 a 2.5 2 0 1 0 0.1 0" fill="none" stroke="#dfe6ff" stroke-width="0.6" stroke-linejoin="round" opacity="1"/><path d="M 110 316 L 114 315 M 120 311 L 126 309" fill="none" stroke="#dfe6ff" stroke-width="0.8" stroke-linejoin="round" opacity="1"/><circle cx="122" cy="342.6" r="4.2" fill="#0a0a0a"/><circle cx="122.2" cy="343.4" r="2" fill="#f5e63a"/><circle cx="103" cy="357.5" r="2.6" fill="none" stroke="#111" stroke-width="1"/><ellipse cx="53.2" cy="339.5" rx="3.8" ry="3.6" fill="none" stroke="#000" stroke-width="0.7"/><path d="M 130.0 333.9 L 132.3 335.3 L 134.4 334.0 L 136.8 333.1 L 139.0 334.4 L 141.7 332.8 L 143.6 332.8 L 146.3 334.6 L 147.7 335.4 L 150.7 334.5 L 153.1 333.0 L 154.5 334.1 L 155.9 333.1 L 157.7 332.6 L 159.8 333.8 L 162.6 334.1 L 165.1 334.0 L 167.5 333.9 L 169.3 335.5 L 172.4 335.0 L 175.0 333.4" fill="none" stroke="#0a0a0a" stroke-width="0.7" stroke-linejoin="round" opacity="1"/><path d="M 130.0 338.4 L 131.4 339.8 L 133.5 340.0 L 135.5 340.4 L 138.3 337.5 L 140.0 340.2 L 142.1 340.4 L 144.1 337.7 L 146.6 339.8 L 148.4 337.8 L 150.3 340.4 L 152.9 337.9 L 154.7 337.8 L 156.1 339.9 L 157.7 339.2 L 159.8 338.1 L 162.4 337.9 L 164.9 337.8 L 167.0 338.1 L 168.8 340.4 L 171.5 338.4 L 174.4 338.1" fill="none" stroke="#0a0a0a" stroke-width="0.7" stroke-linejoin="round" opacity="1"/><path d="M 164 333 L 167 329.5 L 172 328.5 L 177 330 L 179 334 L 177 338 L 172 339.5 L 168 338 L 170 334 L 174 333 L 175 336" fill="none" stroke="#0a0a0a" stroke-width="0.8" stroke-linejoin="round" opacity="1"/><path d="M 234.0 332.4 L 236.4 329.4 L 239.5 329.9 L 241.3 332.1 L 243.2 330.2 L 244.6 329.4 L 247.0 330.0 L 249.4 330.5 L 251.5 332.8 L 253.6 331.3 L 256.5 329.7 L 258.1 332.6 L 260.8 330.0 L 262.5 332.0 L 265.5 329.8 L 268.5 332.5 L 270.8 330.7 L 272.3 329.2 L 275.4 330.0 L 277.9 330.0 L 280.7 331.4 L 282.5 329.7 L 285.1 329.3 L 286.8 331.2 L 289.7 331.5 L 291.5 332.7 L 293.2 329.1 L 294.9 330.8 L 296.4 329.7 L 298.3 331.3 L 299.9 330.4 L 302.8 332.9 L 305.3 331.8 L 307.6 329.6 L 309.0 329.1 L 311.9 331.8 L 314.9 329.1 L 317.4 330.9 L 320.0 330.3" fill="none" stroke="#0a0a0a" stroke-width="0.7" stroke-linejoin="round" opacity="1"/><path d="M 234.0 340.3 L 236.3 342.9 L 239.2 342.9 L 241.7 343.2 L 244.7 341.4 L 247.2 343.6 L 250.1 341.7 L 252.8 343.5 L 255.1 342.5 L 257.1 342.3 L 259.5 340.3 L 261.9 344.0 L 264.8 342.9 L 266.8 342.9 L 269.1 341.8 L 271.9 340.3 L 274.6 340.1 L 277.0 341.9 L 278.7 342.8 L 280.9 342.5 L 283.8 341.0 L 285.2 341.2 L 287.7 340.8 L 289.3 343.6 L 291.8 341.8 L 294.7 341.3 L 297.1 340.8 L 299.2 343.2 L 302.2 343.5 L 304.2 342.3 L 306.0 340.5 L 308.2 343.3 L 311.0 342.8 L 314.0 341.1 L 315.6 341.8 L 317.4 340.9 L 319.5 342.5 L 321.7 341.3" fill="none" stroke="#0a0a0a" stroke-width="0.7" stroke-linejoin="round" opacity="1"/><path d="M 240 292 L 238.5 296 L 243 305 L 246.5 305.5 L 244.5 297 Z M 248 308 L 247 312 L 251.5 319 L 254.5 319 L 252 311 Z M 260 306 L 259 310 L 262.5 317 L 265 316.5 L 263 308 Z M 280.5 312 L 280 316 L 282.5 323 L 285 322.5 L 283.5 314 Z M 271 352 L 276 358 L 282 364 L 280 368 L 274 362 Z" fill="none" stroke="#0a0a0a" stroke-width="0.7" stroke-linejoin="round" opacity="0.95"/><ellipse cx="18.4" cy="316" rx="1.9" ry="2.3" fill="#b8dc30" stroke="#000" stroke-width="0.8"/><circle cx="25.5" cy="326" r="1.5" fill="none" stroke="#d8c0e8" stroke-width="0.6"/></g></g>
<ellipse cx="491.8" cy="336.9" rx="158" ry="78.1" fill="none" stroke="#2a2340" stroke-width="0.7" opacity="0.8"/>

<rect x="85.4" y="185.8" width="159.2" height="6.599999999999994" fill="url(#cb1)" stroke="#222" stroke-width="0.5"/>
<rect x="411.8" y="186.2" width="159.2" height="6.300000000000011" fill="url(#cb2)" stroke="#222" stroke-width="0.5"/>
<rect x="81.8" y="427" width="164.2" height="8.199999999999989" fill="url(#cb3)" stroke="#222" stroke-width="0.5"/>
<rect x="412.4" y="427" width="164.20000000000005" height="8.199999999999989" fill="url(#cb4)" stroke="#222" stroke-width="0.5"/>
<g stroke="#222" stroke-width="0.5"><line x1="103.4" y1="435.2" x2="103.4" y2="437.8"/><line x1="138.9" y1="435.2" x2="138.9" y2="437.8"/><line x1="174.4" y1="435.2" x2="174.4" y2="437.8"/><line x1="209.9" y1="435.2" x2="209.9" y2="437.8"/><line x1="245.3" y1="435.2" x2="245.3" y2="437.8"/><line x1="413.4" y1="435.2" x2="413.4" y2="437.8"/><line x1="440.4" y1="435.2" x2="440.4" y2="437.8"/><line x1="467.5" y1="435.2" x2="467.5" y2="437.8"/><line x1="494.5" y1="435.2" x2="494.5" y2="437.8"/><line x1="521.6" y1="435.2" x2="521.6" y2="437.8"/><line x1="548.6" y1="435.2" x2="548.6" y2="437.8"/><line x1="575.7" y1="435.2" x2="575.7" y2="437.8"/><line x1="85.6" y1="192.4" x2="85.6" y2="194" /><line x1="244.4" y1="192.4" x2="244.4" y2="194" /><line x1="412" y1="192.5" x2="412" y2="194" /><line x1="570.8" y1="192.5" x2="570.8" y2="194" /></g>
<g><text x="166.7" y="14.7" font-size="8.75" text-anchor="middle" fill="#111" stroke="#111" stroke-width="0.18">408 MHz Total Intensity</text>
<text x="493.6" y="14.7" font-size="8.75" text-anchor="middle" fill="#111" stroke="#111" stroke-width="0.18">30 GHz Polarized Intensity</text>
<text x="164.9" y="252.7" font-size="8.75" text-anchor="middle" fill="#111" stroke="#111" stroke-width="0.18">Fan Region - 408 MHz Total Intensity</text>
<text x="491.6" y="252.7" font-size="8.75" text-anchor="middle" fill="#111" stroke="#111" stroke-width="0.18">Fan Region - 30 GHz Polarized Intensity</text>
<text x="165.3" y="205.3" font-size="7.2" text-anchor="middle" fill="#111">K</text>
<text x="492" y="205.3" font-size="7.2" text-anchor="middle" fill="#111">mK</text>
<text x="164.2" y="454" font-size="7.2" text-anchor="middle" fill="#111">K</text>
<text x="493.6" y="454" font-size="7.2" text-anchor="middle" fill="#111">mK</text>
<text x="85.6" y="199" font-size="5.2" text-anchor="middle" fill="#111">0</text>
<text x="244.6" y="199" font-size="5.2" text-anchor="middle" fill="#111">100</text>
<text x="412" y="199.4" font-size="5.2" text-anchor="middle" fill="#111">0</text>
<text x="571" y="199.4" font-size="5.2" text-anchor="middle" fill="#111">0.05</text>
<text x="102.60000000000001" y="444.8" font-size="6.2" text-anchor="middle" fill="#111">10</text>
<text x="138.1" y="444.8" font-size="6.2" text-anchor="middle" fill="#111">20</text>
<text x="173.6" y="444.8" font-size="6.2" text-anchor="middle" fill="#111">30</text>
<text x="209.1" y="444.8" font-size="6.2" text-anchor="middle" fill="#111">40</text>
<text x="244.5" y="444.8" font-size="6.2" text-anchor="middle" fill="#111">50</text>
<text x="411.4" y="444.9" font-size="6.35" text-anchor="middle" fill="#111">0.00</text>
<text x="438.45" y="444.9" font-size="6.35" text-anchor="middle" fill="#111">0.01</text>
<text x="465.5" y="444.9" font-size="6.35" text-anchor="middle" fill="#111">0.02</text>
<text x="492.54999999999995" y="444.9" font-size="6.35" text-anchor="middle" fill="#111">0.03</text>
<text x="519.6" y="444.9" font-size="6.35" text-anchor="middle" fill="#111">0.04</text>
<text x="546.65" y="444.9" font-size="6.35" text-anchor="middle" fill="#111">0.05</text>
<text x="573.7" y="444.9" font-size="6.35" text-anchor="middle" fill="#111">0.06</text></g>
</svg>
</body></html>
